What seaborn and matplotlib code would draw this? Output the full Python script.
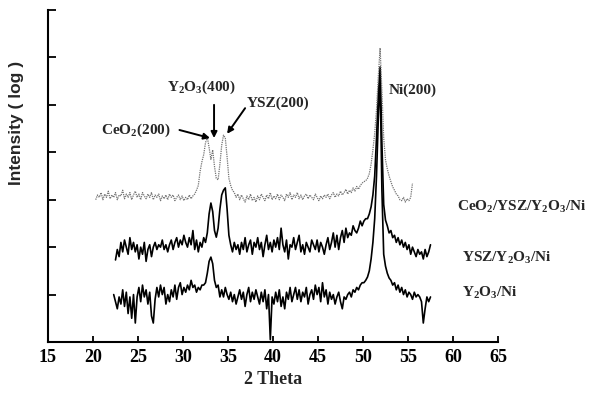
import numpy as np
import pandas as pd
import matplotlib
matplotlib.use("Agg")
import matplotlib.pyplot as plt
import seaborn as sns

# ---------------- data ----------------
# Y2O3/Ni : 2theta from 22.3 step 0.2
y2o3_start, y2o3_step = 22.3, 0.2
y2o3_ni = [
    1.00, 0.85, 0.70, 0.95, 0.80, 1.10, 0.75, 1.05, 0.60, 0.95,
    0.50, 1.00, 0.40, 0.95, 1.15, 0.85, 1.20, 0.95, 1.10, 0.80,
    1.05, 0.55, 0.40, 0.90, 1.15, 0.95, 1.20, 1.00, 1.15, 0.80,
    1.00, 0.85, 1.10, 0.95, 1.20, 0.90, 1.15, 1.25, 1.00, 1.15,
    1.05, 1.20, 1.10, 1.30, 1.15, 1.20, 1.05, 1.15, 1.10, 1.20,
    1.20, 1.25, 1.45, 1.70, 1.79, 1.65, 1.30, 1.15, 1.20, 0.95,
    1.10, 0.95, 1.15, 1.00, 0.90, 1.05, 0.85, 1.00, 0.80, 0.95,
    1.10, 0.90, 1.05, 0.75, 1.00, 1.15, 0.85, 1.05, 0.90, 1.10,
    0.95, 0.80, 1.05, 0.85, 1.10, 0.70, 1.00, 0.05, 0.95, 0.80,
    1.05, 0.85, 1.10, 0.75, 0.95, 0.70, 1.05, 0.90, 1.15, 0.85,
    1.00, 1.15, 0.90, 1.10, 0.85, 1.05, 0.95, 1.15, 0.80, 1.00,
    1.10, 0.90, 1.20, 1.00, 1.15, 0.85, 1.25, 0.95, 1.10, 0.80,
    1.05, 0.90, 1.00, 0.80, 0.95, 1.05, 0.85, 0.70, 0.95, 0.90,
    1.00, 1.05, 0.95, 1.10, 1.05, 1.15, 1.10, 1.20, 1.25, 1.25,
    1.30, 1.37, 1.50, 1.75, 2.10, 2.60, 3.50, 4.70, 5.60, 3.20,
    1.85, 1.60, 1.45, 1.35, 1.30, 1.20, 1.25, 1.10, 1.20, 1.05,
    1.15, 1.00, 1.10, 0.95, 1.05, 1.00, 0.90, 1.05, 0.95, 1.00,
    0.95, 0.85, 0.40, 0.70, 0.95, 0.85, 0.95,
]

# YSZ/Y2O3/Ni : 2theta from 22.5 step 0.2
ysz_start, ysz_step = 22.5, 0.2
ysz_y2o3_ni = [
    1.73, 1.95, 1.80, 2.10, 1.90, 2.15, 2.00, 1.85, 2.20, 1.95,
    2.10, 1.90, 2.05, 1.75, 2.00, 1.85, 2.10, 1.70, 1.95, 2.05,
    1.80, 2.00, 2.10, 1.95, 2.05, 2.00, 2.15, 1.95, 2.05, 1.90,
    2.05, 2.15, 1.95, 2.10, 2.20, 2.00, 2.15, 2.05, 2.25, 2.10,
    2.00, 2.20, 2.05, 2.35, 1.95, 2.15, 1.90, 2.10, 2.00, 2.20,
    2.10, 2.30, 2.70, 2.93, 2.75, 2.35, 2.21, 2.40, 2.80, 3.10,
    3.20, 3.25, 2.80, 2.25, 2.05, 1.90, 2.10, 1.95, 2.05, 1.85,
    2.10, 1.95, 2.20, 1.90, 2.05, 2.15, 1.85, 2.10, 2.00, 2.20,
    1.95, 2.10, 1.80, 2.05, 2.25, 1.95, 2.10, 1.90, 2.15, 2.00,
    2.20, 1.95, 2.40, 2.05, 1.90, 2.15, 1.75, 2.05, 2.00, 2.20,
    1.95, 2.10, 2.25, 1.90, 2.05, 1.85, 2.10, 2.00, 1.90, 2.15,
    2.05, 1.95, 2.15, 1.90, 2.10, 2.00, 1.85, 2.05, 2.20, 1.95,
    2.10, 2.30, 2.00, 2.25, 1.95, 2.20, 2.35, 2.10, 2.40, 2.20,
    2.30, 2.25, 2.45, 2.35, 2.30, 2.40, 2.55, 2.45, 2.55, 2.60,
    2.60, 2.70, 2.85, 3.10, 3.50, 4.30, 5.20, 5.80, 4.20, 2.90,
    2.57, 2.45, 2.30, 2.35, 2.20, 2.25, 2.10, 2.20, 2.05, 2.15,
    2.00, 2.10, 1.95, 2.05, 1.85, 2.00, 1.90, 1.80, 1.95, 1.85,
    1.90, 1.75, 1.95, 1.80, 1.90, 2.05,
]

# CeO2/YSZ/Y2O3/Ni : 2theta from 20.3 step 0.2
ceo2_start, ceo2_step = 20.3, 0.2
ceo2_ysz_y2o3_ni = [
    3.00, 3.10, 3.05, 3.15, 3.00, 3.12, 3.05, 3.18, 3.02, 3.10,
    3.05, 3.15, 3.00, 3.10, 3.08, 3.20, 3.02, 3.12, 3.05, 3.15,
    3.00, 3.10, 3.18, 3.05, 3.12, 3.00, 3.15, 3.08, 3.02, 3.12,
    3.05, 3.15, 3.00, 3.10, 3.05, 3.12, 2.98, 3.08, 3.02, 3.10,
    3.00, 3.12, 3.05, 3.10, 2.98, 3.05, 3.10, 3.00, 3.08, 2.98,
    3.05, 3.00, 3.10, 3.02, 3.08, 3.12, 3.20, 3.30, 3.60, 3.80,
    3.95, 4.20, 4.32, 4.10, 3.85, 4.05, 3.70, 3.45, 3.42, 3.75,
    4.15, 4.36, 4.30, 3.90, 3.45, 3.30, 3.20, 3.15, 3.05, 3.12,
    3.00, 3.10, 3.02, 2.95, 3.08, 3.00, 3.12, 2.98, 3.05, 2.95,
    3.08, 3.00, 3.12, 3.05, 2.98, 3.10, 3.02, 3.15, 3.00, 3.08,
    3.02, 3.12, 3.00, 3.10, 3.05, 2.98, 3.12, 3.05, 3.15, 3.00,
    3.10, 3.05, 3.15, 3.02, 3.10, 3.00, 3.08, 3.12, 3.02, 3.10,
    3.05, 3.00, 3.12, 3.05, 2.98, 3.08, 3.02, 3.10, 3.05, 3.12,
    3.02, 3.10, 3.15, 3.05, 3.12, 3.08, 3.18, 3.10, 3.15, 3.22,
    3.12, 3.20, 3.15, 3.25, 3.18, 3.28, 3.22, 3.30, 3.35, 3.38,
    3.40, 3.45, 3.55, 3.75, 4.05, 4.40, 4.90, 5.60, 6.20, 5.30,
    4.30, 3.84, 3.65, 3.50, 3.38, 3.27, 3.20, 3.12, 3.08, 3.00,
    2.98, 3.05, 2.95, 3.02, 2.98, 3.05, 3.35,
]

x_ticks = [15, 20, 25, 30, 35, 40, 45, 50, 55, 60, 65]
y_ticks = [1, 2, 3, 4, 5, 6, 7]
sample_labels = ["CeO$_2$/YSZ/Y$_2$O$_3$/Ni", "YSZ/Y$_2$O$_3$/Ni", "Y$_2$O$_3$/Ni"]
peak_labels = ["CeO$_2$(200)", "Y$_2$O$_3$(400)", "YSZ(200)", "Ni(200)"]


def make_frame(start, step, values, name):
    two_theta = start + step * np.arange(len(values))
    return pd.DataFrame({"two_theta": two_theta, "intensity": values, "sample": name})


df_top = make_frame(ceo2_start, ceo2_step, ceo2_ysz_y2o3_ni, sample_labels[0])
df_mid = make_frame(ysz_start, ysz_step, ysz_y2o3_ni, sample_labels[1])
df_bot = make_frame(y2o3_start, y2o3_step, y2o3_ni, sample_labels[2])

# ---------------- styling ----------------
sns.set_theme(style="ticks")
plt.rcParams["font.family"] = ["Liberation Serif", "DejaVu Serif"]
plt.rcParams["mathtext.fontset"] = "custom"
plt.rcParams["mathtext.rm"] = "Liberation Serif:bold"
plt.rcParams["mathtext.it"] = "Liberation Serif:italic:bold"
plt.rcParams["mathtext.bf"] = "Liberation Serif:bold"
plt.rcParams["mathtext.default"] = "rm"

fig = plt.figure(figsize=(5.9, 4.01), dpi=100)
ax = fig.add_axes([48 / 590, 59 / 401, 450 / 590, 332 / 401])

sns.lineplot(data=df_bot, x="two_theta", y="intensity", ax=ax, color="black",
             linewidth=1.2, sort=False, estimator=None)
sns.lineplot(data=df_mid, x="two_theta", y="intensity", ax=ax, color="black",
             linewidth=1.2, sort=False, estimator=None)
sns.lineplot(data=df_top, x="two_theta", y="intensity", ax=ax, color="0.45",
             linewidth=0.9, linestyle=(0, (1, 0.8)), sort=False, estimator=None)

ax.set_xlim(15, 65)
ax.set_ylim(0, 7)
ax.set_xticks(x_ticks)
ax.set_xticklabels([str(t) for t in x_ticks], fontsize=13, fontweight="bold",
                   family="Liberation Serif")
ax.set_yticks(y_ticks)
ax.set_yticklabels([])
ax.tick_params(axis="both", direction="in", width=1.3, colors="black")
ax.tick_params(axis="x", length=4, pad=5)
ax.tick_params(axis="y", length=6)
for side in ("top", "right"):
    ax.spines[side].set_visible(False)
for side in ("left", "bottom"):
    ax.spines[side].set_linewidth(1.5)
    ax.spines[side].set_color("black")

ax.set_xlabel("2 Theta", fontsize=13, fontweight="bold", family="Liberation Serif",
              labelpad=4)
ax.set_ylabel("")
fig.text(17 / 590, 1 - 123 / 401, "Intensity ( log )", rotation=90, ha="center",
         va="center", fontsize=12.5, fontweight="bold", family="Liberation Sans")

# peak annotations
ann_kw = dict(fontsize=11, fontweight="bold", family="Liberation Serif",
              ha="center", va="center")
arrow_kw = dict(arrowstyle="-|>", color="black", lw=1.4, mutation_scale=9,
                shrinkA=0, shrinkB=0)
ax.annotate(peak_labels[0], xy=(33.0, 4.30), xytext=(24.8, 4.47),
            arrowprops=dict(**arrow_kw, relpos=(1.12, 0.5)), **ann_kw)
ax.text(32.0, 5.38, peak_labels[1], **ann_kw)
ax.annotate("", xy=(33.45, 4.30), xytext=(33.45, 5.0), arrowprops=arrow_kw)
ax.text(40.6, 5.04, peak_labels[2], **ann_kw)
ax.annotate("", xy=(34.9, 4.39), xytext=(36.9, 4.93), arrowprops=arrow_kw)
ax.text(55.5, 5.31, peak_labels[3], **ann_kw)

# sample labels
lab_kw = dict(fontsize=11, fontweight="bold", family="Liberation Serif",
              ha="left", va="center")
ax.text(60.45, 2.85, sample_labels[0], **lab_kw)
ax.text(61.0, 1.77, sample_labels[1], **lab_kw)
ax.text(61.0, 1.03, sample_labels[2], **lab_kw)

fig.savefig("out.png", dpi=100)
